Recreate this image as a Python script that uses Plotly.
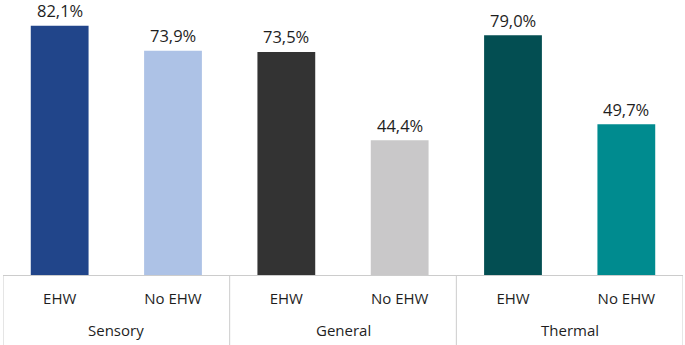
import plotly.graph_objects as go

groups = ["Sensory", "General", "Thermal"]
subgroups = ["EHW", "No EHW", "EHW", "No EHW", "EHW", "No EHW"]
values = [82.1, 73.9, 73.5, 44.4, 79.0, 49.7]
colors = ["#21458A", "#ADC2E6", "#333333", "#C9C8C9", "#034E52", "#008B8F"]

xs = list(range(len(values)))
n_sub = len(subgroups) // len(groups)
labels = [f"{v:.1f}%".replace(".", ",") for v in values]

fig = go.Figure(go.Bar(
    x=xs,
    y=values,
    width=0.51,
    marker=dict(color=colors, line=dict(width=0)),
    hoverinfo="skip",
))

# value labels above bars
for xi, v, lab in zip(xs, values, labels):
    fig.add_annotation(x=xi, y=v, xref="x", yref="y", text=lab,
                       showarrow=False, yanchor="middle", yshift=15,
                       borderpad=0,
                       font=dict(size=16.5, color="#1E1E1E"))

line_color = "#CCCCCC"
# group labels and dividers
for gi, g in enumerate(groups):
    center = gi * n_sub + (n_sub - 1) / 2
    fig.add_annotation(x=center, xref="x", y=-0.2, yref="paper",
                       text=g, showarrow=False, yanchor="middle",
                       font=dict(size=15, color="#1E1E1E"))
for k in range(len(groups) + 1):
    xd = k * n_sub - 0.5
    fig.add_shape(type="line", xref="x", yref="paper", x0=xd, x1=xd,
                  y0=0, y1=-0.26, line=dict(color=line_color, width=1))

fig.update_layout(
    width=685, height=345,
    margin=dict(l=3, r=2, t=0, b=70),
    paper_bgcolor="white", plot_bgcolor="white",
    font=dict(family="Open Sans, Liberation Sans, sans-serif", size=15, color="#1E1E1E"),
    showlegend=False,
    xaxis=dict(
        range=[-0.5, len(values) - 0.5],
        tickmode="array", tickvals=xs, ticktext=subgroups,
        showline=True, linecolor=line_color, linewidth=1,
        showgrid=False, zeroline=False,
        ticks="outside", ticklen=10, tickcolor="rgba(0,0,0,0)",
        tickfont=dict(size=15, color="#1E1E1E"),
    ),
    yaxis=dict(range=[0, 90.6], visible=False, showgrid=False),
)

fig.write_html("out.html",
               config={"displayModeBar": False},
               post_script="document.body.style.margin='0';document.body.style.overflow='hidden';")
